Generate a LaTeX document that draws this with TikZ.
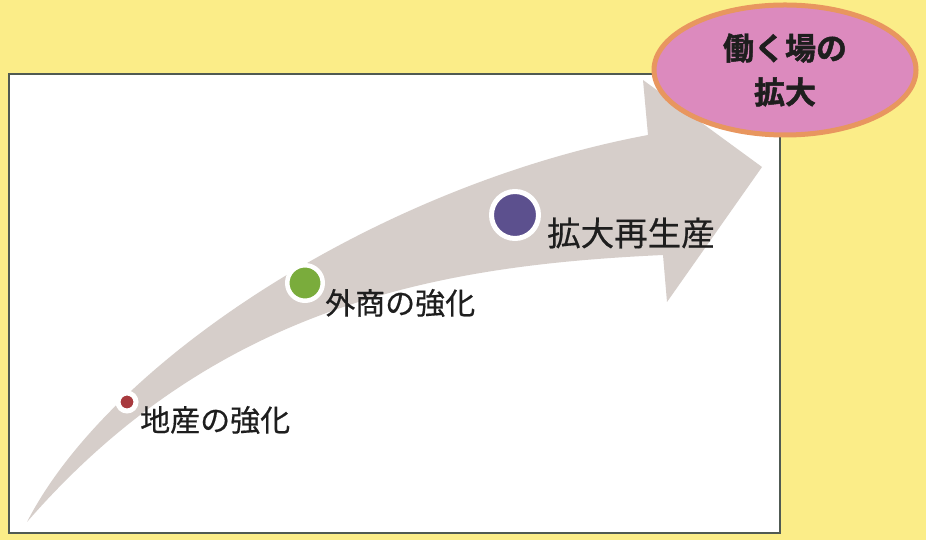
\documentclass[tikz,border=0pt]{standalone}
\usepackage{fontspec}
\newfontfamily\cjk[FakeBold=0.5]{Noto Sans CJK JP}
\newfontfamily\cjkbold[FakeBold=1.5]{Noto Sans CJK JP Bold}
\definecolor{bgyellow}{RGB}{251,237,136}
\definecolor{boxline}{RGB}{80,90,82}
\definecolor{arrowgray}{RGB}{214,206,202}
\definecolor{pinkfill}{RGB}{220,138,190}
\definecolor{halo}{RGB}{232,150,95}
\definecolor{dotred}{RGB}{168,58,62}
\definecolor{dotgreen}{RGB}{122,172,60}
\definecolor{dotblue}{RGB}{92,80,142}
\definecolor{txt}{RGB}{30,30,30}
\tikzset{
  dot/.style={circle, draw=white, inner sep=0pt},
  lbl/.style={anchor=west, inner sep=0pt, text=txt, font=\cjk\fontsize{30}{32}\selectfont},
  goal/.style={ellipse, fill=pinkfill, draw=halo, line width=5pt, minimum width=262pt, minimum height=130pt, align=center, text=txt, font=\cjkbold\fontsize{31}{44}\selectfont}
}
\usetikzlibrary{shapes.geometric}
\begin{document}
\begin{tikzpicture}[x=1pt,y=1pt]
\useasboundingbox (0,0) rectangle (926,540);
\fill[bgyellow] (0,0) rectangle (926,540);
\draw[boxline, line width=1.4pt, fill=white] (9,7) rectangle (780,466);
% big curved arrow
\fill[arrowgray] (27,18) .. controls (110,180) and (380,355) .. (648,405)
  -- (643,460) -- (762,373) -- (667,238) -- (663,285)
  .. controls (450,275) and (220,240) .. (27,18) -- cycle;
% dots
\node[dot, fill=dotred, minimum size=18pt, line width=5pt] (d1) at (127,138) {};
\node[dot, fill=dotgreen, minimum size=35.5pt, line width=4.5pt] (d2) at (305,257) {};
\node[dot, fill=dotblue, minimum size=47pt, line width=5pt] (d3) at (515,325) {};
% labels
\node[lbl] (l1) at (140,120) {地産の強化};
\node[lbl] (l2) at (325,237) {外商の強化};
\node[lbl, font=\cjk\fontsize{33.5}{35}\selectfont] (l3) at (547,307) {拡大再生産};
% goal ellipse
\node[goal] (g) at (785,470) {働く場の\\拡大};
\end{tikzpicture}
\end{document}
